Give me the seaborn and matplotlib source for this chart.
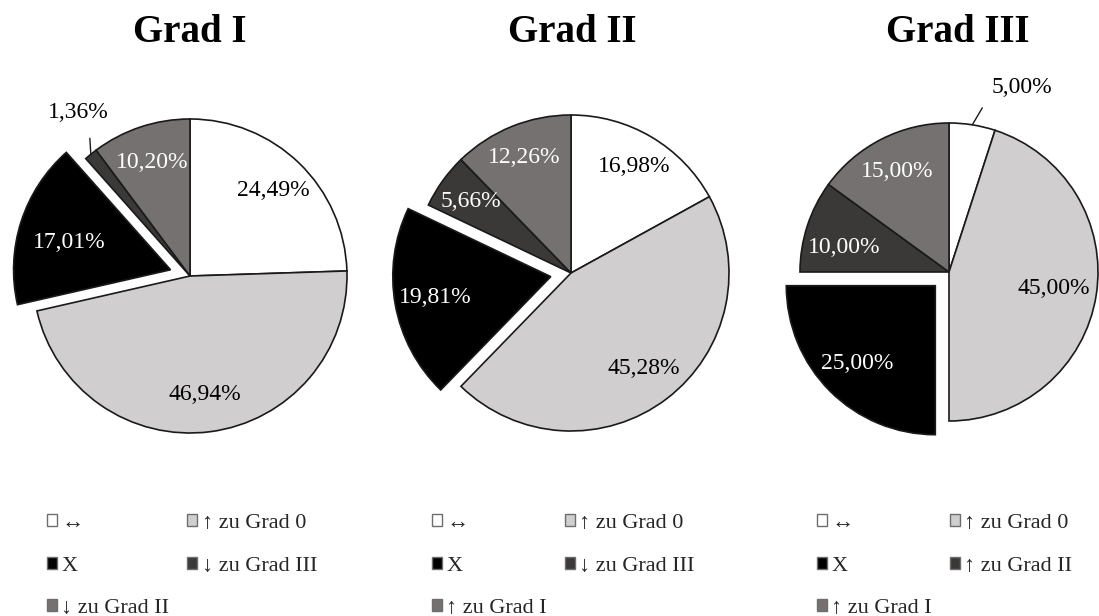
import numpy as np
import matplotlib
matplotlib.use("Agg")
import matplotlib.pyplot as plt
import seaborn as sns
from matplotlib.patches import Patch

sns.set_theme(style="white")
plt.rcParams["font.family"] = ["Liberation Serif", "DejaVu Serif"]

# ---- data -------------------------------------------------------------
titles = ["Grad I", "Grad II", "Grad III"]

labels_g1 = ["↔", "↑ zu Grad 0", "X", "↓ zu Grad III", "↓ zu Grad II"]
labels_g2 = ["↔", "↑ zu Grad 0", "X", "↓ zu Grad III", "↑ zu Grad I"]
labels_g3 = ["↔", "↑ zu Grad 0", "X", "↑ zu Grad II", "↑ zu Grad I"]

values_g1 = [24.49, 46.94, 17.01, 1.36, 10.20]
values_g2 = [16.98, 45.28, 19.81, 5.66, 12.26]
values_g3 = [5.00, 45.00, 25.00, 10.00, 15.00]

# ---- style ------------------------------------------------------------
slice_colors = ["#ffffff", "#d0cece", "#000000", "#3b3838", "#767171"]
text_colors = ["black", "black", "white", "white", "white"]
explode_frac = [0, 0, 0.13, 0, 0]   # fraction of the radius

W, H = 1099, 616
pie_cx = [190, 571, 949]
pie_cy = [276, 273, 272]          # measured from the top edge
pie_r = [157, 158, 149]
title_x = [190, 572, 958]

# radial position of each value label (fraction of radius); None = outside
label_dist = [
    [0.76, 0.76, 0.67, None, 0.76],
    [0.78, 0.76, 0.74, 0.78, 0.79],
    [None, 0.71, 0.74, 0.72, 0.76],
]
# small turn of the label direction away from the slice bisector (degrees)
label_turn = [
    [0, 0, 3, 0, 0],
    [0, 0, 0, 0, 0],
    [0, 0, 0, 5, 0],
]
# leader line end and text centre for outside labels, offsets in px from the rim
leader = [
    {3: ((-1, 16), (-13, 42))},
    {},
    {0: ((10, 17), (50, 37))},
]
legend_x = [47, 432, 817]

panels = [
    (labels_g1, values_g1),
    (labels_g2, values_g2),
    (labels_g3, values_g3),
]


def fmt(v):
    return f"{v:.2f}".replace(".", ",") + "%"


fig = plt.figure(figsize=(W / 100, H / 100), dpi=100)
ax = fig.add_axes([0, 0, 1, 1])

for i, (labels, values) in enumerate(panels):
    cx, cy, r = pie_cx[i], H - pie_cy[i], pie_r[i]
    wedges, _ = ax.pie(
        values,
        colors=slice_colors,
        explode=[e * r for e in explode_frac],
        startangle=90,
        counterclock=False,
        center=(cx, cy),
        radius=r,
        frame=True,
        wedgeprops=dict(edgecolor="#1a1a1a", linewidth=1.2),
    )
    for j, (w, v) in enumerate(zip(wedges, values)):
        mid = (w.theta1 + w.theta2) / 2
        wx, wy = w.center
        d = label_dist[i][j]
        if d is not None:
            ang = np.deg2rad(mid + label_turn[i][j])
            ax.text(wx + d * w.r * np.cos(ang), wy + d * w.r * np.sin(ang),
                    fmt(v), ha="center", va="center", fontsize=17,
                    color=text_colors[j])
        else:
            ang = np.deg2rad(mid)
            ex, ey = wx + w.r * np.cos(ang), wy + w.r * np.sin(ang)
            (lx, ly), (tx, ty) = leader[i][j]
            ax.plot([ex, ex + lx], [ey, ey + ly], color="#1a1a1a", lw=1.0)
            ax.text(ex + tx, ey + ty, fmt(v), ha="center", va="center",
                    fontsize=17, color="black")

    ax.text(title_x[i], H - 33, titles[i], ha="center", va="center",
            fontsize=28, fontweight="bold", color="black")

    # legend: row-wise reading order, matplotlib fills column-wise
    order = [0, 2, 4, 1, 3]
    handles = [Patch(facecolor=slice_colors[k], edgecolor="#6e6e6e",
                     linewidth=1.0, label=labels[k]) for k in order]
    fig.legend(
        handles=handles,
        loc="upper left",
        bbox_to_anchor=(legend_x[i] / W, 1 - 514 / H),
        ncol=2,
        frameon=False,
        fontsize=16,
        handlelength=0.45,
        handleheight=0.45,
        handletextpad=0.2,
        columnspacing=0.8,
        labelspacing=1.06,
        borderpad=0,
        borderaxespad=0,
    )

ax.set_xlim(0, W)
ax.set_ylim(0, H)
ax.set_aspect("equal")
ax.axis("off")

fig.savefig("out.png", dpi=100, facecolor="white")
